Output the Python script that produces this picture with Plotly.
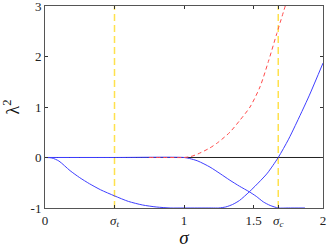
import plotly.graph_objects as go

# --- data ---
sigma_b1 = [0, 0.05, 0.1, 0.18, 0.25, 0.32, 0.4, 0.5, 0.6, 0.7, 0.8, 0.9, 1.0, 1.1, 1.2, 1.25,
            1.3, 1.35, 1.4, 1.47, 1.55, 1.6, 1.678, 1.75, 1.8, 1.9, 2.0]
lam_b1 = [0, -0.01, -0.07, -0.26, -0.40, -0.52, -0.64, -0.76, -0.87, -0.94, -0.98, -1.0, -1.0, -1.0, -1.0, -1.0,
          -0.98, -0.93, -0.85, -0.68, -0.46, -0.31, 0.0, 0.35, 0.63, 1.22, 1.87]

sigma_b2 = [0, 0.5, 1.0, 1.04, 1.1, 1.187, 1.26, 1.33, 1.4, 1.47, 1.52, 1.571, 1.62, 1.678, 1.75, 1.87]
lam_b2 = [0, 0, 0, -0.02, -0.07, -0.19, -0.32, -0.45, -0.57, -0.68, -0.77, -0.88, -0.95, -1.0, -1.0, -1.0]

sigma_r = [0.75, 0.9, 1.0, 1.05, 1.1, 1.187, 1.25, 1.33, 1.4, 1.475, 1.547, 1.607, 1.667, 1.734]
lam_r = [0, 0, 0.0, 0.02, 0.07, 0.19, 0.31, 0.5, 0.73, 1.0, 1.4, 1.9, 2.45, 3.05]

sigma_t = 0.5
sigma_c = 1.678

x_tickvals = [0, sigma_t, 1, 1.5, sigma_c, 2]
x_ticktext = ["0", "<i>σ</i><sub><i>t</i></sub>", "1", "1.5", "<i>σ</i><sub><i>c</i></sub>", "2"]
y_tickvals = [-1, 0, 1, 2, 3]
y_ticktext = ["-1", "0", "1", "2", "3"]

BLUE = "#3f3fff"
RED = "#ff4a4a"
YELLOW = "#ffe14d"
FONT = "Liberation Serif"

fig = go.Figure()

# vertical reference lines
for xv in [sigma_t, sigma_c]:
    fig.add_trace(go.Scatter(x=[xv, xv], y=[-1, 3], mode="lines",
                             line=dict(color=YELLOW, width=1.5, dash="7px,4px"),
                             hoverinfo="skip", showlegend=False))

# zero line
fig.add_trace(go.Scatter(x=[0, 2], y=[0, 0], mode="lines",
                         line=dict(color="#222222", width=1), showlegend=False))

fig.add_trace(go.Scatter(x=sigma_b1, y=lam_b1, mode="lines",
                         line=dict(color=BLUE, width=1, shape="spline", smoothing=0.7),
                         showlegend=False))
fig.add_trace(go.Scatter(x=sigma_b2, y=lam_b2, mode="lines",
                         line=dict(color=BLUE, width=1, shape="spline", smoothing=0.7),
                         showlegend=False))
fig.add_trace(go.Scatter(x=sigma_r, y=lam_r, mode="lines",
                         line=dict(color=RED, width=1, dash="4px,3px", shape="spline", smoothing=0.7),
                         showlegend=False))

axis_common = dict(showgrid=False, zeroline=False, showline=True, mirror="allticks",
                   linecolor="#555555", linewidth=1, ticks="inside", ticklen=3,
                   tickcolor="#333333", tickfont=dict(family=FONT, size=13, color="#222222"),
                   automargin=False, ticklabeloverflow="allow")

fig.update_xaxes(range=[0, 2], tickvals=x_tickvals, ticktext=x_ticktext,
                 title=dict(text="<i>σ</i>", font=dict(family=FONT, size=19, color="#111111"), standoff=6),
                 **axis_common)
fig.update_yaxes(range=[-1.0005, 3.0005], tickvals=y_tickvals, ticktext=y_ticktext,
                 title=dict(text="λ<sup>2</sup>", font=dict(family=FONT, size=18, color="#111111"), standoff=8),
                 **axis_common)

fig.update_layout(width=327, height=248, margin=dict(l=45, r=4, t=6, b=40),
                  plot_bgcolor="white", paper_bgcolor="white")

fig.write_html("out.html", config={"displayModeBar": False},
               post_script="document.body.style.margin='0';document.body.style.padding='0';")
